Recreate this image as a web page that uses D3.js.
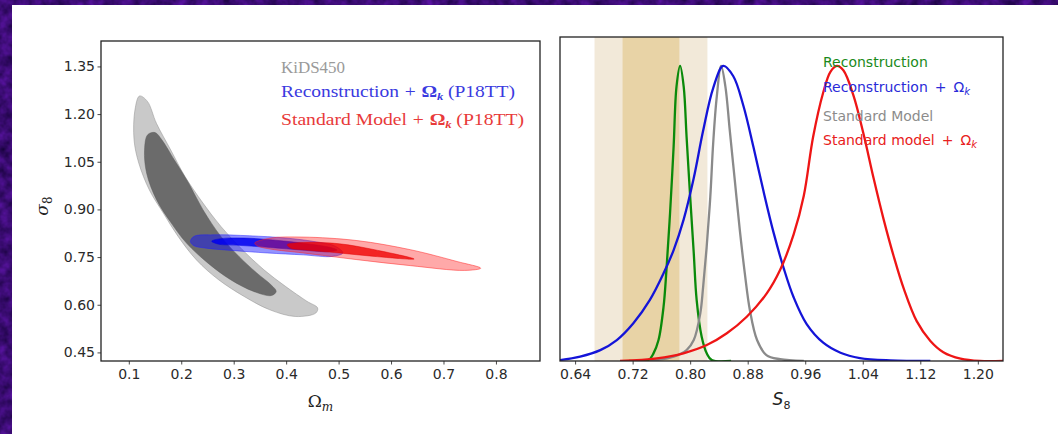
<!DOCTYPE html>
<html><head><meta charset="utf-8">
<script src="https://cdn.jsdelivr.net/npm/d3@7"></script>
<style>
html,body{margin:0;padding:0;background:#3b0a71;}
svg{display:block;}
</style></head><body>
<svg id="chart" width="1058" height="434"></svg>
<script>
// ---- Left panel: (Omega_m, sigma_8) confidence contours ----
const omegaTicks = [0.1, 0.2, 0.3, 0.4, 0.5, 0.6, 0.7, 0.8];
const sigmaTicks = [0.45, 0.60, 0.75, 0.90, 1.05, 1.20, 1.35];

const kidsOuter = [[0.1205,1.257],[0.1117,1.213],[0.110,1.119],[0.119,1.046],[0.139,0.962],[0.166,0.888],[0.194,0.815],[0.229,0.741],[0.271,0.679],[0.320,0.626],[0.369,0.584],[0.418,0.563],[0.4566,0.574],[0.46,0.590],[0.4395,0.611],[0.3986,0.658],[0.3576,0.71],[0.3166,0.773],[0.2756,0.8465],[0.2414,0.92],[0.207,1.004],[0.18,1.087],[0.1527,1.171],[0.1355,1.24]];
const kidsInner = [[0.136,1.135],[0.130,1.087],[0.134,1.014],[0.153,0.93],[0.181,0.857],[0.210,0.794],[0.251,0.731],[0.294,0.679],[0.338,0.642],[0.372,0.629],[0.381,0.642],[0.371,0.663],[0.344,0.70],[0.31,0.752],[0.2756,0.815],[0.2414,0.899],[0.214,0.983],[0.1867,1.056],[0.163,1.119],[0.1500,1.142]];
const reconOuter = [[0.2175,0.799],[0.224,0.815],[0.262,0.820],[0.33,0.817],[0.3986,0.81],[0.453,0.799],[0.494,0.784],[0.508,0.763],[0.487,0.752],[0.4326,0.757],[0.364,0.763],[0.296,0.771],[0.248,0.778],[0.224,0.786]];
const reconInner = [[0.258,0.800],[0.275,0.808],[0.32,0.810],[0.38,0.803],[0.44,0.792],[0.485,0.780],[0.497,0.772],[0.48,0.767],[0.43,0.772],[0.37,0.780],[0.31,0.787],[0.27,0.791]];
const stdOuter = [[0.340,0.794],[0.371,0.81],[0.4326,0.813],[0.535,0.802],[0.6375,0.773],[0.726,0.736],[0.771,0.715],[0.740,0.708],[0.6375,0.723],[0.535,0.742],[0.4326,0.763],[0.371,0.775],[0.347,0.784]];
const stdInner = [[0.4019,0.789],[0.4326,0.796],[0.501,0.792],[0.569,0.773],[0.644,0.744],[0.569,0.752],[0.501,0.763],[0.4326,0.773],[0.409,0.778]];

// ---- Right panel: marginalised S_8 posteriors ----
const s8Ticks = [0.64, 0.72, 0.80, 0.88, 0.96, 1.04, 1.12, 1.20];
const kidsBand1 = [0.706, 0.785];
const kidsBand2 = [0.667, 0.824];

const greenS8 = [0.715,0.742,0.749,0.756,0.763,0.767,0.772,0.777,0.781,0.786,0.791,0.795,0.800,0.805,0.809,0.816,0.823,0.830,0.857];
const greenP  = [0,0.003,0.026,0.071,0.184,0.308,0.50,0.727,0.93,1.0,0.93,0.76,0.557,0.365,0.207,0.082,0.026,0.003,0];
const grayS8 = [0.744,0.777,0.795,0.805,0.814,0.818,0.823,0.828,0.832,0.837,0.843,0.849,0.855,0.862,0.869,0.876,0.883,0.893,0.906,0.925,0.958];
const grayP  = [0,0.015,0.037,0.071,0.16,0.25,0.388,0.557,0.738,0.896,1.0,0.93,0.783,0.614,0.444,0.297,0.173,0.071,0.02,0.006,0];
const blueS8 = [0.619,0.647,0.675,0.698,0.721,0.744,0.763,0.777,0.791,0.805,0.818,0.832,0.846,0.860,0.874,0.888,0.902,0.916,0.930,0.944,0.962,0.985,1.009,1.036,1.078,1.134];
const blueP  = [0.003,0.015,0.037,0.071,0.128,0.207,0.297,0.376,0.480,0.620,0.780,0.925,1.0,0.965,0.865,0.725,0.575,0.435,0.315,0.215,0.125,0.062,0.028,0.010,0.002,0];
const redS8 = [0.7025,0.7535,0.7906,0.8231,0.851,0.8787,0.9065,0.925,0.944,0.958,0.971,0.985,0.995,1.004,1.013,1.027,1.041,1.055,1.069,1.083,1.097,1.115,1.134,1.152,1.176,1.203,1.235];
const redP  = [0,0.009,0.026,0.054,0.094,0.15,0.229,0.308,0.430,0.560,0.760,0.910,0.980,1.0,0.985,0.900,0.770,0.620,0.480,0.355,0.245,0.135,0.068,0.030,0.008,0,0];

const W = 1058, H = 434;
const svg = d3.select("#chart");
const defs = svg.append("defs");

// mottled purple backdrop
const neb = defs.append("filter").attr("id","nebula").attr("x",0).attr("y",0).attr("width","100%").attr("height","100%")
  .attr("color-interpolation-filters","sRGB");
neb.append("feTurbulence").attr("type","fractalNoise").attr("baseFrequency",0.09).attr("numOctaves",3).attr("seed",7);
neb.append("feColorMatrix").attr("type","matrix")
  .attr("values","0.34 0 0 0 0.06  0.09 0 0 0 0.0  0.52 0 0 0 0.19  0 0 0 0 1");
svg.append("rect").attr("width",W).attr("height",H).attr("filter","url(#nebula)");
svg.append("rect").attr("x",12).attr("y",5).attr("width",W-12).attr("height",H-5).attr("fill","#ffffff");

const tickFont = "'DejaVu Sans', sans-serif";
function styleAxis(g){
  g.select(".domain").remove();
  g.selectAll(".tick line").attr("stroke","#333").attr("stroke-width",0.9);
  g.selectAll(".tick text").attr("fill","#2a2a2a").style("font-family",tickFont).style("font-size","14px");
}

// ===== Left panel =====
const L = {x0:101, x1:540, y0:41, y1:361};
const xL = d3.scaleLinear().domain([0.047,0.884]).range([L.x0,L.x1]);
const yL = d3.scaleLinear().domain([0.423,1.43]).range([L.y1,L.y0]);

defs.append("clipPath").attr("id","clipL").append("rect")
  .attr("x",L.x0).attr("y",L.y0).attr("width",L.x1-L.x0).attr("height",L.y1-L.y0);

const contourLine = d3.line().x(d=>xL(d[0])).y(d=>yL(d[1])).curve(d3.curveCatmullRomClosed.alpha(0.5));
const gc = svg.append("g").attr("clip-path","url(#clipL)");
const contours = [
  {pts:kidsOuter, fill:"#c9c9c9", op:1, stroke:"#8c8c8c"},
  {pts:kidsInner, fill:"#6b6b6b", op:1, stroke:"#5a5a5a"},
  {pts:reconOuter, fill:"#1010ff", op:0.45, stroke:"#2020ff"},
  {pts:reconInner, fill:"#0000f0", op:0.85, stroke:"#0000e0"},
  {pts:stdOuter, fill:"#ff1010", op:0.36, stroke:"#ff2020"},
  {pts:stdInner, fill:"#f00000", op:0.78, stroke:"#e00000"}
];
contours.forEach(c=>{
  gc.append("path").attr("d",contourLine(c.pts))
    .attr("fill",c.fill).attr("fill-opacity",c.op)
    .attr("stroke",c.stroke).attr("stroke-opacity",0.6).attr("stroke-width",0.8);
});

svg.append("g").attr("transform",`translate(0,${L.y1})`)
  .call(d3.axisBottom(xL).tickValues(omegaTicks).tickFormat(d3.format(".1f")).tickSize(3.5).tickPadding(5))
  .call(styleAxis);
svg.append("g").attr("transform",`translate(${L.x0},0)`)
  .call(d3.axisLeft(yL).tickValues(sigmaTicks).tickFormat(d3.format(".2f")).tickSize(3.5).tickPadding(2.5))
  .call(styleAxis);
svg.append("rect").attr("x",L.x0).attr("y",L.y0).attr("width",L.x1-L.x0).attr("height",L.y1-L.y0)
  .attr("fill","none").attr("stroke","#222").attr("stroke-width",1.3);

// axis labels
const xlabL = svg.append("text").attr("x",(L.x0+L.x1)/2).attr("y",407).attr("text-anchor","middle")
  .style("font-family","'DejaVu Serif', serif").style("font-size","17px").attr("fill","#222");
xlabL.append("tspan").text("Ω");
xlabL.append("tspan").attr("dy",4).style("font-size","12px").style("font-style","italic").text("m");

const ylabL = svg.append("text").attr("transform",`translate(48,${(L.y0+L.y1)/2+5}) rotate(-90)`)
  .attr("text-anchor","middle").style("font-family","'DejaVu Serif', serif").style("font-size","17px").attr("fill","#222");
ylabL.append("tspan").style("font-style","italic").text("σ");
ylabL.append("tspan").attr("dy",4).style("font-size","12px").text("8");

// legend (serif); each line stretched to its column width
const legL = [
  {main:"KiDS450", tail:null, color:"#9a9a9a", y:73, width:64},
  {main:"Reconstruction", tail:"(P18TT)", color:"#3a3ae0", y:97, width:234},
  {main:"Standard Model", tail:"(P18TT)", color:"#e83a3a", y:125, width:243}
];
legL.forEach(e=>{
  const t = svg.append("text").attr("x",281).attr("y",e.y)
    .style("font-family","'Liberation Serif', serif").style("font-size","17px").attr("fill",e.color);
  t.append("tspan").text(e.main);
  if(e.tail){
    t.append("tspan").attr("dx",5).text("+");
    t.append("tspan").attr("dx",5).style("font-weight","bold").text("Ω");
    t.append("tspan").attr("dy",3).style("font-size","11px").style("font-style","italic").style("font-weight","bold").text("k");
    t.append("tspan").attr("dy",-3).attr("dx",4).text(e.tail);
  }
  t.attr("textLength",e.width).attr("lengthAdjust","spacingAndGlyphs");
});

// ===== Right panel =====
const R = {x0:560, x1:1003, y0:37, y1:361};
const xR = d3.scaleLinear().domain([0.619,1.235]).range([R.x0,R.x1]);
const yR = d3.scaleLinear().domain([0,1.098]).range([R.y1,R.y0]);

defs.append("clipPath").attr("id","clipR").append("rect")
  .attr("x",R.x0).attr("y",R.y0).attr("width",R.x1-R.x0).attr("height",R.y1-R.y0);
const gr = svg.append("g").attr("clip-path","url(#clipR)");

gr.append("rect").attr("x",xR(kidsBand2[0])).attr("y",R.y0)
  .attr("width",xR(kidsBand2[1])-xR(kidsBand2[0])).attr("height",R.y1-R.y0).attr("fill","#f2e9d9");
gr.append("rect").attr("x",xR(kidsBand1[0])).attr("y",R.y0)
  .attr("width",xR(kidsBand1[1])-xR(kidsBand1[0])).attr("height",R.y1-R.y0).attr("fill","#e8d3a6");

const curve = d3.line().x(d=>xR(d[0])).y(d=>yR(d[1])).curve(d3.curveCatmullRom.alpha(0.5));
const series = [
  {s:greenS8, p:greenP, color:"#0a8a0a"},
  {s:grayS8, p:grayP, color:"#8a8a8a"},
  {s:blueS8, p:blueP, color:"#1414d8"},
  {s:redS8, p:redP, color:"#ee1515"}
];
series.forEach(d=>{
  gr.append("path").attr("d",curve(d3.zip(d.s,d.p)))
    .attr("fill","none").attr("stroke",d.color).attr("stroke-width",2.3).attr("stroke-linejoin","round");
});

svg.append("g").attr("transform",`translate(0,${R.y1})`)
  .call(d3.axisBottom(xR).tickValues(s8Ticks).tickFormat(d3.format(".2f")).tickSize(3.5).tickPadding(5))
  .call(styleAxis);
svg.append("rect").attr("x",R.x0).attr("y",R.y0).attr("width",R.x1-R.x0).attr("height",R.y1-R.y0)
  .attr("fill","none").attr("stroke","#222").attr("stroke-width",1.3);

const xlabR = svg.append("text").attr("x",(R.x0+R.x1)/2).attr("y",405).attr("text-anchor","middle")
  .style("font-family",tickFont).style("font-size","17px").attr("fill","#222");
xlabR.append("tspan").style("font-style","italic").text("S");
xlabR.append("tspan").attr("dy",4).style("font-size","11px").text("8");

const legR = [
  {main:"Reconstruction", omega:false, color:"#1a8a1a", y:67},
  {main:"Reconstruction", omega:true, color:"#2a2ad8", y:92},
  {main:"Standard Model", omega:false, color:"#8c8c8c", y:121},
  {main:"Standard model", omega:true, color:"#e82020", y:145}
];
legR.forEach(e=>{
  const t = svg.append("text").attr("x",823).attr("y",e.y)
    .style("font-family",tickFont).style("font-size","14px").attr("fill",e.color);
  t.append("tspan").text(e.main);
  if(e.omega){
    t.append("tspan").attr("dx",7).text("+");
    t.append("tspan").attr("dx",7).text("Ω");
    t.append("tspan").attr("dy",3).style("font-size","10px").style("font-style","italic").text("k");
  }
});
</script></body></html>
